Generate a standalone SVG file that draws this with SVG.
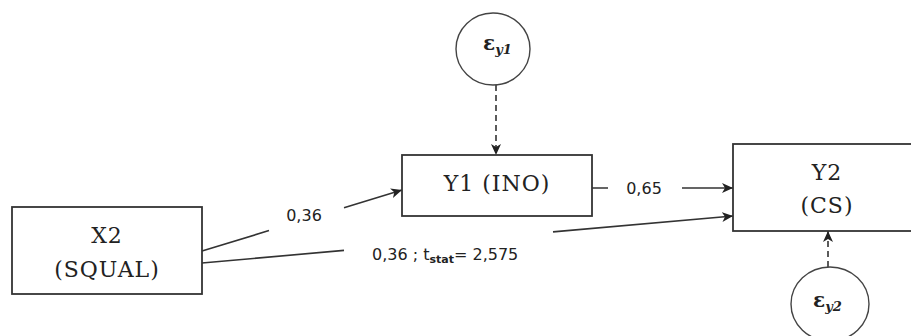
<svg xmlns="http://www.w3.org/2000/svg" width="911" height="336" viewBox="0 0 911 336">
  <style>
    .box { fill: #ffffff; stroke: #333333; stroke-width: 1.8; }
    .err { fill: #ffffff; stroke: #444444; stroke-width: 1.4; }
    .btxt { font-family: "DejaVu Serif", "Liberation Serif", serif; font-size: 22px; fill: #222222; text-anchor: middle; letter-spacing: 1px; }
    .eps { font-family: "DejaVu Serif", "Liberation Serif", serif; font-size: 20px; font-weight: bold; fill: #222222; }
    .sub { font-size: 13px; font-style: italic; font-weight: bold; }
    .lbl { font-family: "DejaVu Sans", "Liberation Sans", sans-serif; font-size: 16px; fill: #222222; }
    .con { fill: none; stroke: #333333; stroke-width: 1.6; }
    .dash { fill: none; stroke: #333333; stroke-width: 1.6; stroke-dasharray: 6 4; }
  </style>
  <defs>
    <marker id="arr" markerUnits="userSpaceOnUse" markerWidth="12" markerHeight="10" refX="11" refY="5" orient="auto">
      <path d="M0,0 L11,5 L0,10 L3,5 z" fill="#222222"/>
    </marker>
  </defs>
  <rect width="911" height="336" fill="#ffffff"/>

  <g id="connectors">
    <path class="dash" d="M496,85 L496,155" marker-end="url(#arr)"/>
    <path class="dash" d="M828,267 L828,231" marker-end="url(#arr)"/>
    <path class="con" d="M202,251 L269,230.6 M344,207.7 L402,190" marker-end="url(#arr)"/>
    <path class="con" d="M202,263 L344,250.4 M553,231.9 L733,216" marker-end="url(#arr)"/>
    <path class="con" d="M592,188 H608 M682,188 H733" marker-end="url(#arr)"/>
    <text class="lbl" x="304" y="221" text-anchor="middle">0,36</text>
    <text class="lbl" x="644" y="194" text-anchor="middle">0,65</text>
    <text class="lbl" x="372" y="260">0,36 ; t<tspan font-size="11" font-weight="bold" dy="3">stat</tspan><tspan dy="-3">= 2,575</tspan></text>
  </g>

  <g id="X2">
    <rect class="box" x="12" y="207" width="190" height="87"/>
    <text class="btxt" x="107" y="243">X2</text>
    <text class="btxt" x="107" y="277">(SQUAL)</text>
  </g>

  <g id="Y1">
    <rect class="box" x="402" y="155" width="190" height="61"/>
    <text class="btxt" x="497" y="191">Y1 (INO)</text>
  </g>

  <g id="Y2">
    <rect class="box" x="733" y="144" width="190" height="87"/>
    <text class="btxt" x="827" y="180">Y2</text>
    <text class="btxt" x="827" y="213">(CS)</text>
  </g>

  <g id="ey1">
    <ellipse class="err" cx="493" cy="49" rx="37" ry="36"/>
    <text class="eps" x="483" y="50">ε<tspan class="sub" dy="4">y1</tspan></text>
  </g>

  <g id="ey2">
    <ellipse class="err" cx="830" cy="304" rx="39" ry="37"/>
    <text class="eps" x="813" y="307">ε<tspan class="sub" dy="4">y2</tspan></text>
  </g>
</svg>
